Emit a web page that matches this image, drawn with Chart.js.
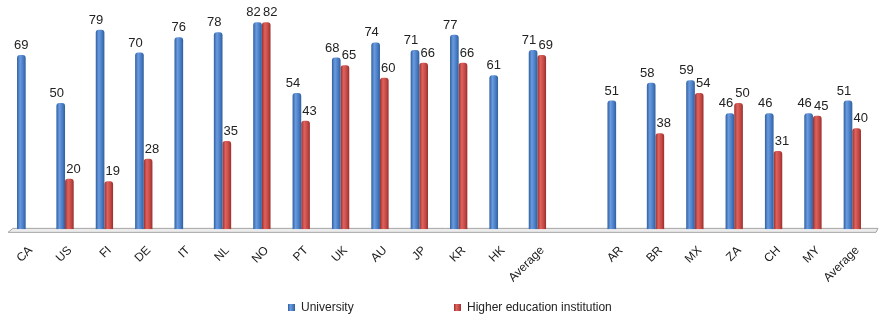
<!DOCTYPE html>
<html>
<head>
<meta charset="utf-8">
<script src="https://cdn.jsdelivr.net/npm/chart.js@4/dist/chart.umd.min.js"></script>
<style>
  html, body { margin: 0; padding: 0; background: #fff; }
  #wrap { width: 879px; height: 321px; position: relative; }
</style>
</head>
<body>
<div id="wrap"><canvas id="myChart" width="879" height="321"></canvas></div>
<script>
// countries, with an empty slot between the two groups
var labels = ["CA", "US", "FI", "DE", "IT", "NL", "NO", "PT", "UK", "AU", "JP", "KR", "HK", "Average",
              "", "AR", "BR", "MX", "ZA", "CH", "MY", "Average"];
var university = [69, 50, 79, 70, 76, 78, 82, 54, 68, 74, 71, 77, 61, 71,
                  null, 51, 58, 59, 46, 46, 46, 51];
var higherEd = [null, 20, 19, 28, null, 35, 82, 43, 65, 60, 66, 66, null, 69,
                null, null, 38, 54, 50, 31, 45, 40];
var seriesNames = ["University", "Higher education institution"];

var blue = { dark: "#2f5f9e", mid: "#6a9be0", base: "#4a7dc4" };
var red = { dark: "#9a2f2c", mid: "#e0625d", base: "#c44a46" };

var ctx = document.getElementById("myChart").getContext("2d");

function shade(c, x, w, col) {
    var g = c.createLinearGradient(x - w / 2, 0, x + w / 2, 0);
    g.addColorStop(0, col.dark);
    g.addColorStop(0.35, col.mid);
    g.addColorStop(0.7, col.base);
    g.addColorStop(1, col.dark);
    return g;
}

// cylinder-ish shading for every bar
var barShading = {
    id: "barShading",
    beforeDatasetsDraw: function(chart) {
        var c = chart.ctx;
        chart.data.datasets.forEach(function(ds, i) {
            var col = i === 0 ? blue : red;
            chart.getDatasetMeta(i).data.forEach(function(el) {
                el.options = Object.assign({}, el.options, { backgroundColor: shade(c, el.x, el.width, col) });
            });
        });
    }
};

// grey floor under the bars
var floor = {
    id: "floor",
    beforeDatasetsDraw: function(chart) {
        var c = chart.ctx, a = chart.chartArea;
        var y = a.bottom;
        c.save();
        c.beginPath();
        c.moveTo(a.left + 2, y + 3);
        c.lineTo(a.left + 7, y - 1);
        c.lineTo(a.right + 6, y - 1);
        c.lineTo(a.right + 4, y + 3);
        c.closePath();
        c.fillStyle = "#ececec";
        c.fill();
        c.strokeStyle = "#a5a5a5";
        c.lineWidth = 1;
        c.stroke();
        c.restore();
    }
};

// value labels above bars, nudged apart where both bars are present
var valueLabels = {
    id: "valueLabels",
    afterDatasetsDraw: function(chart) {
        var c = chart.ctx;
        c.save();
        c.font = "13px 'Liberation Sans', Arial, sans-serif";
        c.fillStyle = "#222";
        c.textAlign = "center";
        c.textBaseline = "alphabetic";
        chart.data.datasets.forEach(function(ds, i) {
            chart.getDatasetMeta(i).data.forEach(function(el, j) {
                var v = ds.data[j];
                if (v === null) return;
                var dx = 0;
                if (university[j] !== null && higherEd[j] !== null) dx = i === 0 ? -4 : 4;
                c.fillText(v, el.x + dx, el.y - 6);
            });
        });
        c.restore();
    }
};

// legend row at the bottom
var legendRow = {
    id: "legendRow",
    afterDraw: function(chart) {
        var c = chart.ctx;
        var items = [{ x: 288, col: blue }, { x: 454, col: red }];
        c.save();
        c.font = "12px 'Liberation Sans', Arial, sans-serif";
        c.textBaseline = "middle";
        items.forEach(function(it, i) {
            c.fillStyle = shade(c, it.x + 3.5, 7, it.col);
            c.fillRect(it.x, 304, 7, 7);
            c.fillStyle = "#222";
            c.fillText(seriesNames[i], it.x + 13, 308);
        });
        c.restore();
    }
};

var myBarChart = new Chart(ctx, {
    type: "bar",
    data: {
        labels: labels,
        datasets: [
            { label: seriesNames[0], data: university, backgroundColor: blue.base,
              borderRadius: { topLeft: 3, topRight: 3 }, borderSkipped: "bottom" },
            { label: seriesNames[1], data: higherEd, backgroundColor: red.base,
              borderRadius: { topLeft: 3, topRight: 3 }, borderSkipped: "bottom" }
        ]
    },
    options: {
        responsive: false,
        animation: false,
        layout: { padding: { top: 2, left: 6, right: 7, bottom: 30 } },
        datasets: { bar: { categoryPercentage: 0.44, barPercentage: 1 } },
        scales: {
            x: {
                grid: { display: false },
                border: { display: false },
                ticks: {
                    minRotation: 45, maxRotation: 45, autoSkip: false, padding: 6, labelOffset: 5,
                    color: "#222",
                    font: { family: "'Liberation Sans', Arial, sans-serif", size: 12 }
                }
            },
            y: { display: false, min: 0, max: 90 }
        },
        plugins: {
            legend: { display: false },
            tooltip: { enabled: false }
        }
    },
    plugins: [barShading, floor, valueLabels, legendRow]
});
</script>
</body>
</html>
